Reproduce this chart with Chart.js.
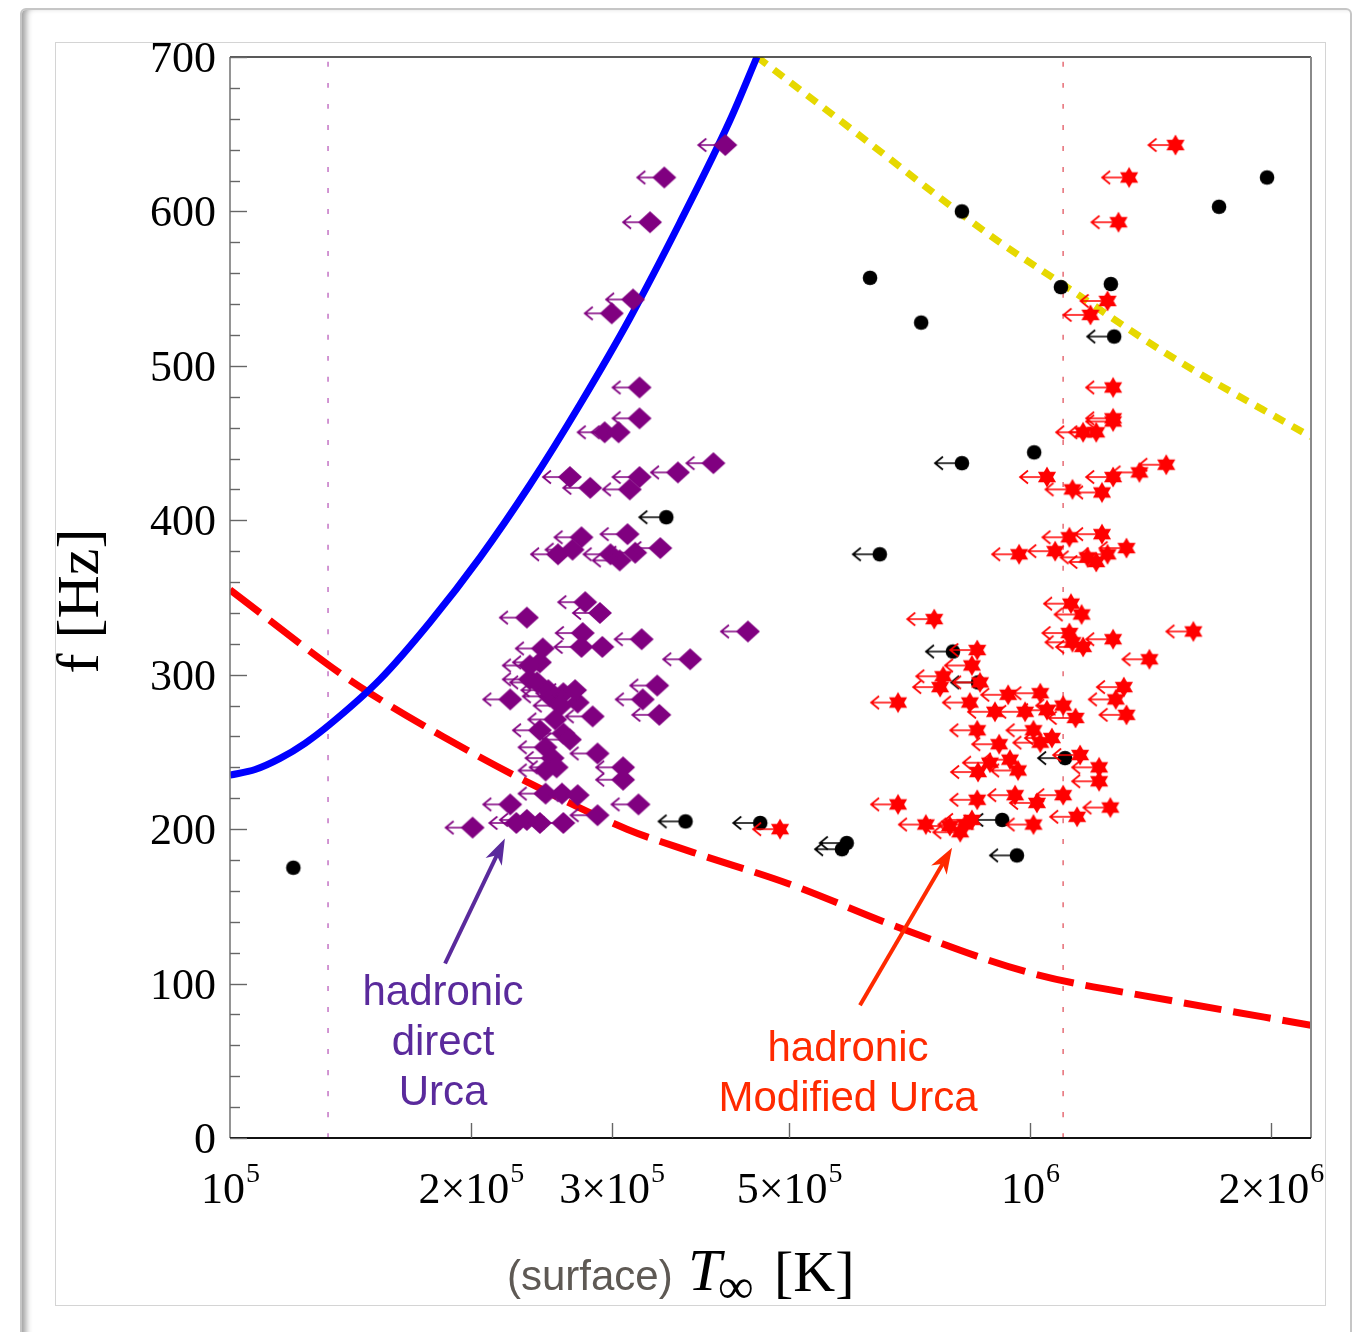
<!DOCTYPE html>
<html>
<head>
<meta charset="utf-8">
<script src="https://cdn.jsdelivr.net/npm/chart.js@4.4.1/dist/chart.umd.min.js"></script>
<style>
  html, body { margin: 0; padding: 0; background: #fff; }
  body { width: 1356px; height: 1332px; position: relative; overflow: hidden; }
  #window { position: absolute; left: 20px; top: 8px; width: 1328px; height: 1340px; border: 2px solid #c6c6c6; border-radius: 6px; box-shadow: inset 7px 0 6px -3px #a0a0a0; }
  #panel { position: absolute; left: 55px; top: 42px; width: 1269px; height: 1262px; border: 1px solid #d4d4d4; }
  canvas { position: absolute; left: 0; top: 0; }
</style>
</head>
<body>
<div id="window"></div>
<div id="panel"></div>
<canvas id="chart" width="1356" height="1332"></canvas>
<script>
// ---- pulsars: surface temperature T (K) and spin frequency f (Hz) ----
// purple: hadronic direct Urca (upper limits on T)
const diamondT = [4.16e5, 3.49e5, 3.35e5, 3.19e5, 3.00e5, 3.25e5, 3.25e5, 2.94e5, 3.06e5, 2.66e5,
                  2.82e5, 3.25e5, 3.16e5, 3.63e5, 4.02e5, 2.75e5, 2.68e5, 2.57e5, 3.14e5, 2.99e5,
                  3.07e5, 3.21e5, 3.45e5, 2.78e5, 2.90e5, 2.35e5, 4.44e5, 2.76e5, 2.75e5, 2.92e5,
                  3.27e5, 2.46e5, 3.76e5, 2.44e5, 3.42e5, 3.28e5, 3.44e5, 2.37e5, 2.42e5, 2.24e5,
                  2.51e5, 2.61e5, 2.72e5, 2.84e5, 2.44e5, 2.61e5, 2.66e5, 2.48e5, 2.88e5, 2.53e5,
                  2.48e5, 2.56e5, 3.10e5, 3.10e5, 2.24e5, 2.48e5, 2.60e5, 2.72e5, 2.88e5, 3.24e5,
                  2.35e5, 2.44e5, 2.61e5, 2.01e5, 2.28e5, 2.50e5, 2.59e5, 2.70e5, 2.37e5, 2.55e5];
const diamondF = [643, 622, 593, 543, 534, 486, 466, 457, 457, 428,
                  421, 428, 420, 431, 437, 389, 381, 378, 391, 378,
                  374, 379, 382, 347, 340, 337, 328, 327, 318, 318,
                  323, 317, 310, 308, 293, 284, 274, 297, 295, 284,
                  286, 288, 282, 273, 264, 262, 258, 253, 249, 246,
                  238, 240, 240, 232, 216, 223, 223, 222, 209, 216,
                  206, 204, 204, 201, 204, 290, 280, 290, 306, 271];

// red: hadronic modified Urca (upper limits on T)
const starT = [1.52e6, 1.33e6, 1.29e6, 1.25e6, 1.19e6, 1.27e6, 1.27e6, 1.165e6, 1.21e6, 1.27e6,
               1.05e6, 1.13e6, 1.23e6, 1.27e6, 1.37e6, 1.48e6, 1.12e6, 1.23e6, 1.32e6, 9.69e5,
               1.075e6, 1.18e6, 1.21e6, 1.25e6, 1.125e6, 1.16e6, 7.59e5, 1.60e6, 1.12e6, 1.13e6,
               1.165e6, 1.27e6, 1.41e6, 8.59e5, 8.46e5, 7.79e5, 8.66e5, 7.72e5, 6.84e5, 8.41e5,
               9.39e5, 1.03e6, 1.10e6, 1.14e6, 1.31e6, 1.28e6, 1.32e6, 9.04e5, 9.86e5, 1.05e6,
               8.59e5, 1.01e6, 1.065e6, 9.15e5, 1.03e6, 9.44e5, 8.91e5, 9.66e5, 8.61e5, 1.155e6,
               1.22e6, 1.22e6, 6.84e5, 8.59e5, 9.58e5, 1.02e6, 1.10e6, 1.26e6, 7.41e5, 8.30e5,
               8.18e5, 8.46e5, 1.01e6, 1.145e6, 4.87e5, 7.94e5];
const starF = [643, 622, 593, 542, 533, 486, 466, 457, 457, 464,
               428, 420, 418, 428, 431, 436, 389, 391, 382, 378,
               380, 376, 373, 378, 346, 339, 336, 328, 327, 321,
               318, 323, 310, 316, 306, 299, 295, 292, 282, 282,
               287, 288, 280, 272, 292, 284, 274, 276, 276, 277,
               264, 264, 259, 255, 256, 245, 243, 238, 237, 248,
               240, 231, 216, 219, 222, 217, 222, 214, 203, 203,
               198, 206, 203, 208, 200, 202];

// black: measured temperatures
const dotT = [1.20e5, 8.22e5, 6.31e5, 7.31e5, 1.093e6, 1.262e6, 1.723e6, 1.978e6, 1.012e6];
const dotF = [175, 600, 557, 528, 551, 553, 603, 622, 444];
// black: upper limits
const limitT = [1.274e6, 8.22e5, 6.49e5, 3.51e5, 3.71e5, 4.60e5, 5.90e5, 5.82e5, 9.63e5, 9.23e5, 1.106e6, 8.01e5, 8.61e5];
const limitF = [519, 437, 378, 402, 205, 204, 191, 187, 183, 206, 246, 315, 295];

// boundary curves
const blueT = [1.0e5, 1.075e5, 1.155e5, 1.241e5, 1.334e5, 1.540e5, 1.778e5, 2.054e5, 2.371e5, 2.738e5, 3.162e5, 3.652e5, 4.217e5, 4.557e5];
const blueF = [235, 238.6, 245.8, 255.6, 268, 297, 334, 376, 423, 475, 531, 593, 659, 700];
const redT = [1.0e5, 1.372e5, 1.496e5, 1.845e5, 2.323e5, 3.135e5, 3.79e5, 5.0e5, 6.88e5, 1.0e6, 1.5e6, 2.245e6];
const redF = [355, 301, 288, 260, 232, 200, 185, 164.5, 136, 107, 89, 73];
const yellowT = [4.56e5, 6.13e5, 8.22e5, 9.17e5, 1.09e6, 1.48e6, 2.245e6];
const yellowF = [700, 649, 598, 580, 554, 508, 454];

// vertical reference temperatures
const markT = [1.326e5, 1.1e6];

// axes
const xMin = 1e5, xMax = 2.245e6;
const yMin = 0, yMax = 700;
const xTicks = [1e5, 2e5, 3e5, 5e5, 1e6, 2e6];
const xTickMant = ['', '2', '3', '5', '', '2'];
const xTickExp = ['5', '5', '5', '5', '6', '6'];
const yTicks = [0, 100, 200, 300, 400, 500, 600, 700];

const SERIF = '"Liberation Serif", "DejaVu Serif", serif';
const SANS = '"Liberation Sans", Arial, sans-serif';

function pairs(xs, ys) { return xs.map((x, i) => ({ x: x, y: ys[i] })); }

// ---- marker images: symbol with an optional left arrow (upper limit) ----
function makeMarker(shape, color, arrow) {
  const c = document.createElement('canvas');
  c.width = 66; c.height = 30;
  const g = c.getContext('2d');
  const cx = 33, cy = 15;
  if (arrow) {
    const tip = cx - 27;
    g.strokeStyle = color;
    g.lineWidth = 1.7;
    g.beginPath();
    g.moveTo(cx, cy); g.lineTo(tip, cy);
    g.moveTo(tip + 8, cy - 6.5); g.lineTo(tip, cy); g.lineTo(tip + 8, cy + 6.5);
    g.stroke();
  }
  g.fillStyle = color;
  g.beginPath();
  if (shape === 'diamond') {
    g.moveTo(cx, cy - 11); g.lineTo(cx + 12, cy); g.lineTo(cx, cy + 11); g.lineTo(cx - 12, cy);
    g.closePath();
    g.fill();
  } else if (shape === 'star') {
    const r = 10.5;
    [[-90, 30, 150], [90, 210, 330]].forEach(tri => {
      g.beginPath();
      tri.forEach((a, k) => {
        const t = a * Math.PI / 180;
        const px = cx + r * Math.cos(t), py = cy + r * Math.sin(t);
        if (k === 0) g.moveTo(px, py); else g.lineTo(px, py);
      });
      g.closePath();
      g.fill();
    });
  } else {
    g.arc(cx, cy, 7.3, 0, Math.PI * 2);
    g.fill();
  }
  return c;
}

const diamondImg = makeMarker('diamond', '#800080', true);
const starImg = makeMarker('star', '#ff0000', true);
const dotImg = makeMarker('dot', '#000000', false);
const limitImg = makeMarker('dot', '#000000', true);

function scatterSet(data, img) {
  return { data: data, pointStyle: img, pointRadius: 10, showLine: false, order: 1 };
}
function curveSet(data, color, width, dash) {
  return {
    data: data, showLine: true, pointRadius: 0, borderColor: color, borderWidth: width,
    borderDash: dash, cubicInterpolationMode: 'monotone', borderCapStyle: 'butt', order: 2
  };
}

// ---- axes, ticks, labels, annotations ----
function drawArrow(ctx, x0, y0, x1, y1, color) {
  const a = Math.atan2(y1 - y0, x1 - x0);
  const c = Math.cos(a), s = Math.sin(a);
  const L = 26, W = 9;
  ctx.strokeStyle = color;
  ctx.lineWidth = 4;
  ctx.beginPath();
  ctx.moveTo(x0, y0);
  ctx.lineTo(x1 - L * 0.7 * c, y1 - L * 0.7 * s);
  ctx.stroke();
  ctx.fillStyle = color;
  ctx.beginPath();
  ctx.moveTo(x1, y1);
  ctx.lineTo(x1 - L * c + W * s, y1 - L * s - W * c);
  ctx.lineTo(x1 - L * 0.72 * c, y1 - L * 0.72 * s);
  ctx.lineTo(x1 - L * c - W * s, y1 - L * s + W * c);
  ctx.closePath();
  ctx.fill();
}

const framePlugin = {
  id: 'frame',
  afterDraw(chart) {
    const ctx = chart.ctx;
    const xs = chart.scales.x, ys = chart.scales.y;
    const a = chart.chartArea;
    ctx.save();
    ctx.beginPath();
    ctx.rect(56, 43, 1268, 1261);
    ctx.clip();

    // plot box
    ctx.lineCap = 'butt';
    ctx.strokeStyle = '#222'; ctx.lineWidth = 1.5;
    ctx.beginPath(); ctx.moveTo(a.left, a.top); ctx.lineTo(a.right, a.top); ctx.stroke();
    ctx.strokeStyle = '#8a8a8a'; ctx.lineWidth = 2;
    ctx.beginPath(); ctx.moveTo(a.right, a.top); ctx.lineTo(a.right, a.bottom); ctx.stroke();
    ctx.strokeStyle = '#7a7a7a'; ctx.lineWidth = 1.6;
    ctx.beginPath(); ctx.moveTo(a.left, a.top); ctx.lineTo(a.left, a.bottom); ctx.stroke();
    ctx.strokeStyle = '#111'; ctx.lineWidth = 2;
    ctx.beginPath(); ctx.moveTo(a.left, a.bottom); ctx.lineTo(a.right, a.bottom); ctx.stroke();

    // y ticks (inward), major every 100, minor every 20
    ctx.strokeStyle = '#666'; ctx.lineWidth = 1.4;
    for (let v = yMin; v <= yMax; v += 20) {
      const y = Math.round(ys.getPixelForValue(v)) + 0.5;
      const len = v % 100 === 0 ? 17 : 10;
      ctx.beginPath(); ctx.moveTo(a.left, y); ctx.lineTo(a.left + len, y); ctx.stroke();
    }
    // x ticks (inward)
    xTicks.forEach(v => {
      if (v === xMin) return;
      const x = Math.round(xs.getPixelForValue(v)) + 0.5;
      ctx.beginPath(); ctx.moveTo(x, a.bottom); ctx.lineTo(x, a.bottom - 15); ctx.stroke();
    });

    // y tick labels
    ctx.fillStyle = '#000';
    ctx.font = '44px ' + SERIF;
    ctx.textAlign = 'right';
    ctx.textBaseline = 'alphabetic';
    yTicks.forEach(v => {
      ctx.fillText(String(v), a.left - 14, ys.getPixelForValue(v) + 15);
    });

    // x tick labels with superscript exponents
    xTicks.forEach((v, i) => {
      const base = (xTickMant[i] ? xTickMant[i] + '×' : '') + '10';
      ctx.font = '44px ' + SERIF;
      const wb = ctx.measureText(base).width;
      ctx.font = '28px ' + SERIF;
      const we = ctx.measureText(xTickExp[i]).width;
      const x0 = xs.getPixelForValue(v) - (wb + we) / 2;
      ctx.textAlign = 'left';
      ctx.font = '44px ' + SERIF;
      ctx.fillText(base, x0, a.bottom + 65);
      ctx.font = '28px ' + SERIF;
      ctx.fillText(xTickExp[i], x0 + wb + 1, a.bottom + 44);
    });

    // y title
    ctx.save();
    ctx.translate(82, 601);
    ctx.rotate(-Math.PI / 2);
    ctx.textAlign = 'center';
    ctx.textBaseline = 'middle';
    ctx.font = '60px ' + SERIF;
    ctx.fillText('f [Hz]', 0, 0);
    ctx.restore();

    // x title
    ctx.textAlign = 'left';
    ctx.textBaseline = 'alphabetic';
    ctx.fillStyle = '#5e5954';
    ctx.font = '42px ' + SANS;
    ctx.fillText('(surface)', 507, 1290);
    ctx.fillStyle = '#000';
    ctx.font = 'italic 60px ' + SERIF;
    ctx.fillText('T', 688, 1290);
    ctx.font = '50px ' + SERIF;
    ctx.fillText('∞', 718, 1303);
    ctx.font = '58px ' + SERIF;
    ctx.fillText('[K]', 774, 1291);

    // annotations
    const P = (t, f) => [xs.getPixelForValue(t), ys.getPixelForValue(f)];
    const purple = '#5a2a9c', orange = '#ff2a00';
    let p0 = P(1.857e5, 113), p1 = P(2.206e5, 194);
    drawArrow(ctx, p0[0], p0[1], p1[0], p1[1], purple);
    p0 = P(6.13e5, 86); p1 = P(7.99e5, 188);
    drawArrow(ctx, p0[0], p0[1], p1[0], p1[1], orange);

    ctx.font = '42px ' + SANS;
    ctx.textAlign = 'center';
    ctx.fillStyle = purple;
    ctx.fillText('hadronic', 443, 1005);
    ctx.fillText('direct', 443, 1055);
    ctx.fillText('Urca', 443, 1105);
    ctx.fillStyle = orange;
    ctx.fillText('hadronic', 848, 1061);
    ctx.fillText('Modified Urca', 848, 1111);

    ctx.restore();
  }
};

new Chart(document.getElementById('chart'), {
  type: 'scatter',
  data: {
    datasets: [
      curveSet(pairs([markT[0], markT[0]], [yMin, yMax]), '#c77dc9', 1.6, [5, 16]),
      curveSet(pairs([markT[1], markT[1]], [yMin, yMax]), '#e8767e', 1.6, [5, 16]),
      curveSet(pairs(blueT, blueF), '#0000ff', 7, []),
      curveSet(pairs(redT, redF), '#ff0000', 7, [38, 12]),
      curveSet(pairs(yellowT, yellowF), '#e6d800', 7, [12, 9]),
      scatterSet(pairs(diamondT, diamondF), diamondImg),
      scatterSet(pairs(starT, starF), starImg),
      scatterSet(pairs(limitT, limitF), limitImg),
      scatterSet(pairs(dotT, dotF), dotImg)
    ]
  },
  options: {
    responsive: false,
    animation: false,
    devicePixelRatio: 1,
    layout: { padding: { left: 230, top: 57, right: 45, bottom: 194 } },
    plugins: { legend: { display: false }, tooltip: { enabled: false } },
    scales: {
      x: { type: 'logarithmic', min: xMin, max: xMax, display: false },
      y: { type: 'linear', min: yMin, max: yMax, display: false }
    }
  },
  plugins: [framePlugin]
});
</script>
</body>
</html>
